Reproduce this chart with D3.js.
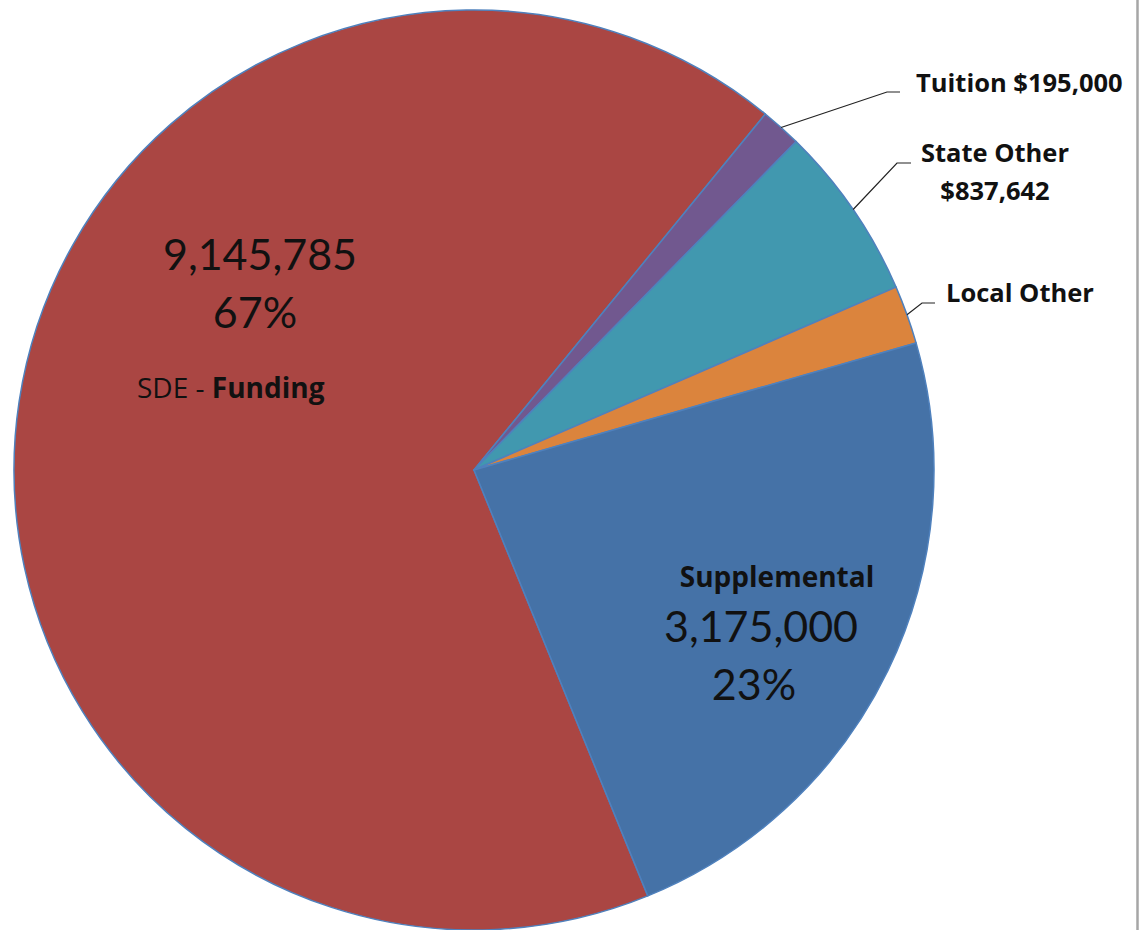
<!DOCTYPE html>
<html>
<head>
<meta charset="utf-8">
<script src="https://cdn.jsdelivr.net/npm/d3@7"></script>
<style>
  html, body { margin: 0; padding: 0; background: #fff; }
  svg { display: block; }
  text { font-family: Lato, "Open Sans", sans-serif; fill: #111; }
  text.lbl { font-family: "Open Sans", Lato, sans-serif; }
</style>
</head>
<body>
<script>
// Funding sources, in drawing order (clockwise)
const categories = ["SDE - Funding", "Tuition", "State Other", "Local Other", "Supplemental"];
const values = [9145785, 195000, 837642, 280000, 3175000];
const colors = ["#AA4643", "#71588F", "#4198AF", "#DB843D", "#4572A7"];

const W = 1146, H = 930;
const cx = 474, cy = 470, R = 460;

const svg = d3.select("body").append("svg")
  .attr("width", W).attr("height", H);

// frame edge on the right
svg.append("line")
  .attr("x1", 1137.5).attr("x2", 1137.5).attr("y1", 0).attr("y2", H)
  .attr("stroke", "#A6A6A6").attr("stroke-width", 2.5);

const total = d3.sum(values);
const rad = d => d * Math.PI / 180;

const pie = d3.pie().sort(null).value(d => d.value)
  .startAngle(rad(-202.2)).endAngle(rad(-202.2 + 360));

const rows = categories.map((c, i) => ({ name: c, value: values[i], color: colors[i] }));
const arcs = pie(rows);

const arc = d3.arc().innerRadius(0).outerRadius(R);

const g = svg.append("g").attr("transform", `translate(${cx},${cy})`);

g.selectAll("path.slice").data(arcs).enter().append("path")
  .attr("class", "slice")
  .attr("d", arc)
  .attr("fill", d => d.data.color)
  .attr("stroke", "#4F81BD")
  .attr("stroke-width", 1.5)
  .attr("stroke-linejoin", "round");

const fmt = d3.format(",");
const pct = v => Math.round(v / total * 100) + "%";

// labels inside the two large slices
const inside = g.append("g");

// SDE - Funding
{
  const d = arcs[0].data;
  inside.append("text").attr("x", 260 - cx).attr("y", 270 - cy)
    .attr("text-anchor", "middle").style("font-size", "43px").text(fmt(d.value));
  inside.append("text").attr("x", 255 - cx).attr("y", 328 - cy)
    .attr("text-anchor", "middle").style("font-size", "43px").text(pct(d.value));
  const t = inside.append("text").attr("class", "lbl").attr("x", 137 - cx).attr("y", 398 - cy)
    .style("font-size", "28px");
  const parts = d.name.split(" - ");
  t.append("tspan").text(parts[0] + " - ");
  t.append("tspan").style("font-weight", "bold").text(parts[1]);
}

// Supplemental
{
  const d = arcs[4].data;
  inside.append("text").attr("class", "lbl").attr("x", 777 - cx).attr("y", 587 - cy)
    .attr("text-anchor", "middle").style("font-size", "28px").style("font-weight", "bold")
    .text(d.name);
  inside.append("text").attr("x", 761 - cx).attr("y", 642 - cy)
    .attr("text-anchor", "middle").style("font-size", "43px").text(fmt(d.value));
  inside.append("text").attr("x", 754 - cx).attr("y", 700 - cy)
    .attr("text-anchor", "middle").style("font-size", "43px").text(pct(d.value));
}

// small slices get outside labels with leader lines
const outside = [
  { i: 1, elbow: [887, 92], end: [900, 92], lines: d => [d.name + " $" + fmt(d.value)], x: 916, y: 92 },
  { i: 2, elbow: [897, 163], end: [911, 163], lines: d => [d.name, "$" + fmt(d.value)], x: 922, y: 162 },
  { i: 3, elbow: [922, 303], end: [935, 303], lines: d => [d.name], x: 946, y: 302 }
];

outside.forEach(o => {
  const a = arcs[o.i];
  const mid = (a.startAngle + a.endAngle) / 2;
  const p0 = [Math.sin(mid) * R, -Math.cos(mid) * R];
  g.append("polyline")
    .attr("points", [p0, [o.elbow[0] - cx, o.elbow[1] - cy], [o.end[0] - cx, o.end[1] - cy]]
      .map(p => p.join(",")).join(" "))
    .attr("fill", "none").attr("stroke", "#222").attr("stroke-width", 1.2);
  const ls = o.lines(a.data);
  const t = g.append("text").attr("class", "lbl").attr("y", o.y - cy)
    .style("font-size", "25.5px").style("font-weight", "bold");
  if (ls.length === 1) {
    t.attr("x", o.x - cx).text(ls[0]);
  } else {
    t.attr("text-anchor", "middle");
    ls.forEach((s, k) => t.append("tspan").attr("x", o.x - cx + 73).attr("dy", k ? 38 : 0).text(s));
  }
});
</script>
</body>
</html>
